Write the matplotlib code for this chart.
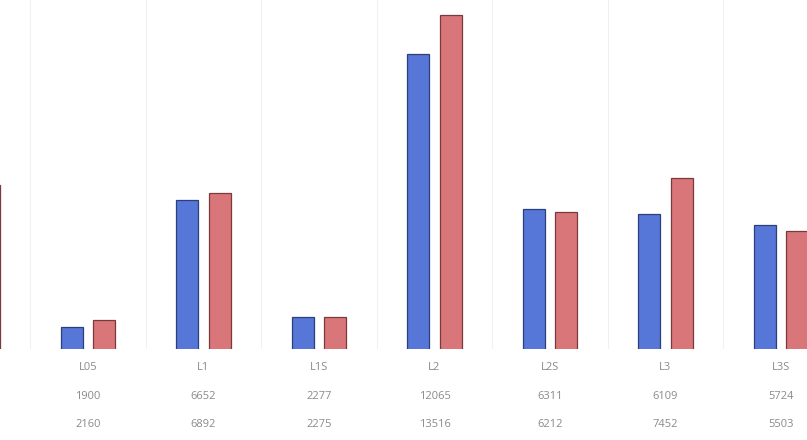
import numpy as np
import matplotlib.pyplot as plt

# ------------------------------------------------------------------
# Paired bar chart with an Excel-style data table underneath
# ------------------------------------------------------------------
categories = ["L0", "L05", "L1", "L1S", "L2", "L2S", "L3", "L3S"]
series_a = [6600, 1900, 6652, 2277, 12065, 6311, 6109, 5724]
series_b = [7190, 2160, 6892, 2275, 13516, 6212, 7452, 5503]

blue = "#5676d8"
red = "#d9767a"
text_grey = "#8a8a8a"

fig = plt.figure(figsize=(8.07, 4.40), dpi=100)
# plot area: baseline at 349 px from the top, reaching the top edge
ax = fig.add_axes([0, (440 - 349) / 440, 1, 349 / 440])

x = np.arange(len(categories))
width = 0.19
offset = 0.139

ax.bar(x - offset, series_a, width, color=blue, edgecolor="#2c3f7a", linewidth=0.9)
ax.bar(x + offset, series_b, width, color=red, edgecolor="#7a3a3c", linewidth=0.9)

# category spacing ~115.5 px, L05 centred at 88 px
spacing = 115.5
ax.set_xlim(1 - 88 / spacing, 1 + (807 - 88) / spacing)
# value axis does not start at zero
ax.set_ylim(1100, 14080)

# faint table cell borders
for b in np.arange(-0.5, len(categories) + 0.5, 1.0):
    ax.axvline(b, color="#f0f0f0", linewidth=0.8, zorder=0)

for s in ax.spines.values():
    s.set_visible(False)
ax.set_xticks([])
ax.set_yticks([])

# data table rows below the plot area (first column lies outside the frame)
trans = ax.get_xaxis_transform()
rows = [(categories, 367), (series_a, 396), (series_b, 424)]
for values, ypx in rows:
    for xi, v in list(zip(x, values))[1:]:
        ax.text(xi, -(ypx - 349) / 349, str(v), transform=trans,
                ha="center", va="center", fontsize=8, color=text_grey,
                family="Open Sans", clip_on=False)

fig.savefig("out.png", dpi=100)
